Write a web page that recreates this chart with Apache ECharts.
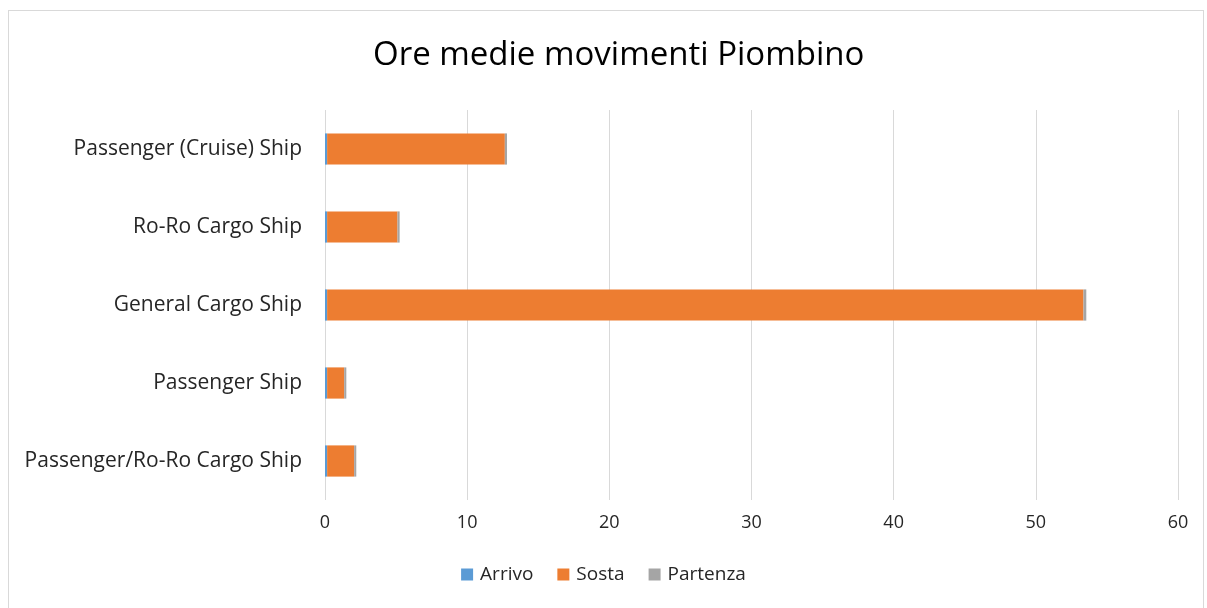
<!DOCTYPE html>
<html>
<head>
<meta charset="utf-8">
<script src="https://cdn.jsdelivr.net/npm/echarts@6/dist/echarts.min.js"></script>
<style>
  html, body { margin: 0; padding: 0; background: #fff; }
  #frame { position: absolute; left: 8px; top: 10px; width: 1196px; height: 620px; border: 1px solid #d9d9d9; box-sizing: border-box; }
  #main { width: 1207px; height: 608px; position: absolute; left: 0; top: 0; }
</style>
</head>
<body>
<div id="frame"></div>
<div id="main"></div>
<script>
// categories bottom -> top
var categories = ['Passenger/Ro-Ro Cargo Ship', 'Passenger Ship', 'General Cargo Ship', 'Ro-Ro Cargo Ship', 'Passenger (Cruise) Ship'];
var arrivo   = [0.15, 0.15, 0.15, 0.15, 0.15];
var sosta    = [1.9, 1.2, 53.2, 4.95, 12.5];
var partenza = [0.15, 0.15, 0.2, 0.15, 0.15];

var chart = echarts.init(document.getElementById('main'));
var font = '"Open Sans", "Liberation Sans", sans-serif';

var option = {
  animation: false,
  title: {
    text: 'Ore medie movimenti Piombino',
    left: 368,
    top: 34,
    textStyle: { fontFamily: font, fontSize: 33, fontWeight: 'normal', color: '#000' }
  },
  color: ['#5b9bd5', '#ed7d31', '#a5a5a5'],
  legend: {
    bottom: 19,
    left: 'center',
    itemWidth: 12,
    itemHeight: 12,
    itemGap: 24,
    icon: 'rect',
    textStyle: { fontFamily: font, fontSize: 19, color: '#262626', padding: [0, 0, 0, 2] },
    data: ['Arrivo', 'Sosta', 'Partenza']
  },
  grid: { left: 325, right: 29, top: 110, bottom: 108 },
  xAxis: {
    type: 'value',
    min: 0, max: 60, interval: 10,
    axisLine: { show: false },
    axisTick: { show: false },
    axisLabel: { fontFamily: font, fontSize: 18, color: '#262626', margin: 14 },
    splitLine: { lineStyle: { color: '#d9d9d9', width: 1 } }
  },
  yAxis: {
    type: 'category',
    data: categories,
    axisLine: { show: false },
    axisTick: { show: false },
    axisLabel: { fontFamily: font, fontSize: 21, color: '#262626', margin: 23 }
  },
  series: [
    { name: 'Arrivo', type: 'bar', stack: 't', data: arrivo, barCategoryGap: '60%' },
    { name: 'Sosta', type: 'bar', stack: 't', data: sosta, barCategoryGap: '60%' },
    { name: 'Partenza', type: 'bar', stack: 't', data: partenza, barCategoryGap: '60%' }
  ]
};
chart.setOption(option);
</script>
</body>
</html>
